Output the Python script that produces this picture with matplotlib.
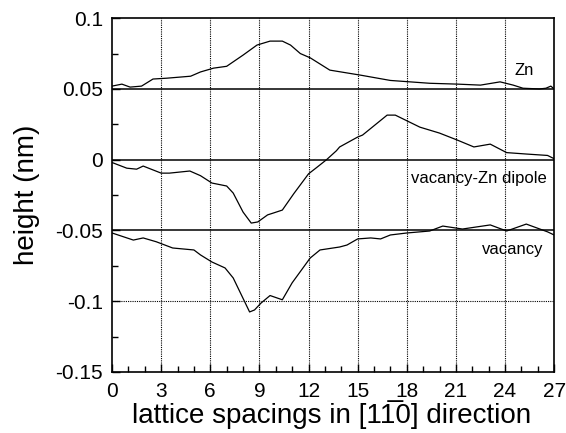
"""
Line profiles across Zn, vacancy-Zn dipole and vacancy (offset curves)
"""

import matplotlib.pyplot as plt
from matplotlib.ticker import MultipleLocator

plt.rcParams["font.family"] = ["Liberation Sans", "DejaVu Sans"]

# =====================================================
# DATA
# =====================================================
zn_x = [0, 0.6, 1.1, 1.8, 2.5, 3.35, 4.8, 5.4, 6.2, 7.0, 8.0, 8.85, 9.65,
        10.4, 10.9, 11.5, 12.1, 13.3, 15.2, 17.0, 18.2, 19.4, 21.1, 22.5,
        23.7, 24.5, 25.1, 26.1, 26.5, 26.8, 27.0]
zn_y = [0.052, 0.0534, 0.0513, 0.052, 0.057, 0.0576, 0.059, 0.062, 0.0647,
        0.066, 0.0739, 0.081, 0.0838, 0.0838, 0.081, 0.075, 0.072, 0.0633,
        0.0597, 0.056, 0.055, 0.054, 0.0534, 0.0527, 0.055, 0.0527, 0.0505,
        0.050, 0.0505, 0.052, 0.050]

dip_x = [0, 0.9, 1.5, 1.9, 3.0, 3.5, 4.75, 5.4, 6.1, 7.0, 7.4, 8.0, 8.5,
         8.9, 9.5, 9.85, 10.4, 11.1, 12.0, 12.5, 13.1, 13.7, 13.9, 15.0,
         15.3, 16.8, 17.3, 18.8, 20.0, 21.1, 22.1, 23.1, 24.1, 25.3, 26.6,
         27.0]
dip_y = [-0.002, -0.006, -0.0067, -0.0045, -0.0095, -0.0095, -0.008, -0.0113,
         -0.0165, -0.0186, -0.0236, -0.037, -0.0448, -0.044, -0.039, -0.0377,
         -0.0356, -0.024, -0.01, -0.0055, 0.0, 0.0063, 0.009, 0.016, 0.0174,
         0.0315, 0.0315, 0.023, 0.0188, 0.0138, 0.009, 0.011, 0.005, 0.004,
         0.003, 0.0007]

vac_x = [0, 1.3, 1.9, 2.7, 3.7, 5.0, 5.4, 6.1, 6.9, 7.4, 7.9, 8.4, 8.7, 9.1,
         9.65, 10.4, 11.0, 12.1, 12.7, 13.5, 13.9, 14.35, 15.0, 15.8, 16.4,
         17.0, 18.0, 19.4, 20.2, 21.4, 23.1, 24.1, 25.3, 26.6, 27.0]
vac_y = [-0.0518, -0.0568, -0.0553, -0.058, -0.0624, -0.0638, -0.0673,
         -0.0723, -0.0765, -0.0836, -0.0956, -0.1076, -0.1062, -0.1013,
         -0.096, -0.099, -0.087, -0.0695, -0.0638, -0.0624, -0.0617, -0.0603,
         -0.056, -0.0553, -0.056, -0.0532, -0.0518, -0.0504, -0.0469, -0.049,
         -0.0461, -0.0504, -0.0455, -0.051, -0.0532]

x_ticks = [0, 3, 6, 9, 12, 15, 18, 21, 24, 27]
y_ticks = [0.1, 0.05, 0, -0.05, -0.1, -0.15]
y_tick_labels = ["0.1", "0.05", "0", "-0.05", "-0.1", "-0.15"]

# =====================================================
# PLOTTING
# =====================================================
fig = plt.figure(figsize=(5.66, 4.33), dpi=100)
ax = fig.add_axes([0.198, 0.141, 0.781, 0.817])

# grid: dotted verticals, solid baselines, dotted at -0.1
for xv in x_ticks[1:-1]:
    ax.axvline(xv, color="black", linestyle=(0, (1, 1)), linewidth=0.8, zorder=1)
for yv in [0.05, 0, -0.05]:
    ax.axhline(yv, color="black", linewidth=1.1, zorder=1)
ax.axhline(-0.1, color="black", linestyle=(0, (1, 1)), linewidth=0.8, zorder=1)

for xs, ys in [(zn_x, zn_y), (dip_x, dip_y), (vac_x, vac_y)]:
    ax.plot(xs, ys, color="black", linewidth=0.9, zorder=2)

ax.text(25.2, 0.0633, "Zn", fontsize=12, ha="center", va="center")
ax.text(22.4, -0.0134, "vacancy-Zn dipole", fontsize=12, ha="center", va="center")
ax.text(24.5, -0.0638, "vacancy", fontsize=12, ha="center", va="center")

ax.set_xlim(0, 27)
ax.set_ylim(-0.15, 0.1)
ax.set_xticks(x_ticks)
ax.set_yticks(y_ticks)
ax.set_yticklabels(y_tick_labels)
ax.xaxis.set_minor_locator(MultipleLocator(1))
ax.yaxis.set_minor_locator(MultipleLocator(0.025))
ax.tick_params(which="both", direction="in", top=False, right=False,
               labelsize=15, width=1)
ax.tick_params(which="major", length=6)
ax.tick_params(which="minor", length=4)
ax.tick_params(axis="x", which="major", pad=7)
ax.tick_params(axis="y", which="major", pad=6.5)

for s in ax.spines.values():
    s.set_linewidth(1.2)

# combining overline (U+0305) on the second 1
fig.text(0.586, 0.024, "lattice spacings in [11\u03050] direction",
         fontsize=20, ha="center", va="baseline")
ax.set_ylabel("height (nm)", fontsize=20, labelpad=11)

fig.savefig("out.png", dpi=100)
